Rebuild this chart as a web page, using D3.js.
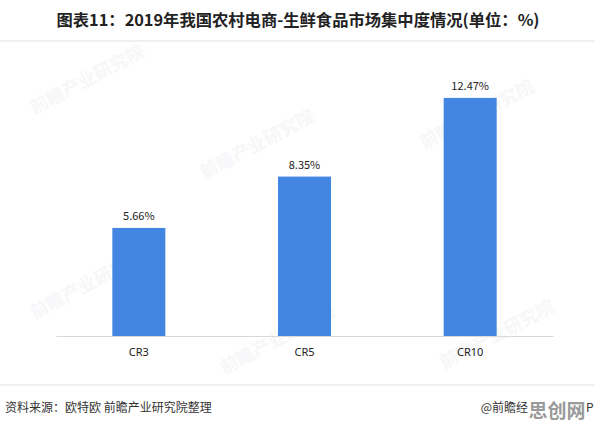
<!DOCTYPE html>
<html>
<head>
<meta charset="utf-8">
<script src="https://cdn.jsdelivr.net/npm/d3@7"></script>
<style>
body { margin: 0; background: #fff; }
svg { display: block; font-family: "Noto Sans CJK SC", "Noto Sans", sans-serif; }
</style>
</head>
<body>
<div id="chart"></div>
<script>
// data
var categories = ['CR3', 'CR5', 'CR10'];
var values = [5.66, 8.35, 12.47];
var labels = ['5.66%', '8.35%', '12.47%'];

var titleText = '图表11：2019年我国农村电商-生鲜食品市场集中度情况(单位：%)';
var sourceText = '资料来源：欧特欧 前瞻产业研究院整理';

var width = 595, height = 426;
var margin = {top: 68.7, right: 42, bottom: 90, left: 56};

var svg = d3.select('#chart').append('svg')
    .attr('width', width)
    .attr('height', height);

// faint watermarks
var marks = [[90, 85], [260, 150], [480, 120], [90, 290], [280, 345], [500, 340]];
svg.append('g').selectAll('text')
    .data(marks)
    .enter().append('text')
    .attr('transform', function (d) { return 'translate(' + d[0] + ',' + d[1] + ') rotate(-28)'; })
    .attr('text-anchor', 'middle')
    .attr('font-size', 18)
    .attr('font-weight', 'bold')
    .attr('fill', '#f6f7f9')
    .text('前瞻产业研究院');

// title
svg.append('text')
    .attr('x', 298)
    .attr('y', 26)
    .attr('text-anchor', 'middle')
    .attr('font-size', 16)
    .attr('font-weight', 'bold')
    .attr('fill', '#222')
    .attr('textLength', 483)
    .attr('lengthAdjust', 'spacingAndGlyphs')
    .text(titleText);

// separators
svg.append('rect').attr('x', 0).attr('y', 40).attr('width', width).attr('height', 2).attr('fill', '#eef0f4');
svg.append('rect').attr('x', 0).attr('y', 384).attr('width', width).attr('height', 2).attr('fill', '#eef0f4');

var x = d3.scaleBand()
    .domain(categories)
    .range([margin.left, width - margin.right])
    .paddingInner(0.68)
    .paddingOuter(0.34);

var y = d3.scaleLinear()
    .domain([0, 14])
    .range([height - margin.bottom, margin.top]);

var g = svg.append('g');

g.selectAll('.bar')
    .data(values)
    .enter().append('rect')
    .attr('class', 'bar')
    .attr('x', function (d, i) { return x(categories[i]); })
    .attr('y', function (d) { return y(d); })
    .attr('width', x.bandwidth())
    .attr('height', function (d) { return y(0) - y(d); })
    .attr('fill', '#4386e1');

g.selectAll('.lbl')
    .data(values)
    .enter().append('text')
    .attr('class', 'lbl')
    .attr('x', function (d, i) { return x(categories[i]) + x.bandwidth() / 2; })
    .attr('y', function (d) { return y(d) - 8; })
    .attr('text-anchor', 'middle')
    .attr('font-size', 11)
    .attr('fill', '#222')
    .text(function (d, i) { return labels[i]; });

// x axis
var xAxis = d3.axisBottom(x).tickSize(0).tickPadding(12);
var gx = svg.append('g')
    .attr('transform', 'translate(0,' + y(0) + ')')
    .call(xAxis);
gx.select('.domain').attr('stroke', '#d9d9d9').attr('stroke-width', 1.2);
gx.selectAll('text')
    .attr('font-size', 11)
    .attr('fill', '#222')
    .attr('font-family', '"Noto Sans", sans-serif');

// footer
svg.append('text')
    .attr('x', 5)
    .attr('y', 412)
    .attr('font-size', 12)
    .attr('fill', '#333')
    .text(sourceText);

svg.append('text')
    .attr('x', 528)
    .attr('y', 412)
    .attr('text-anchor', 'end')
    .attr('font-size', 12)
    .attr('fill', '#333')
    .text('@前瞻经');

svg.append('text')
    .attr('x', 557)
    .attr('y', 418)
    .attr('text-anchor', 'middle')
    .attr('font-size', 19)
    .attr('font-weight', 'bold')
    .attr('fill', '#9a9a9a')
    .text('思创网');

svg.append('text')
    .attr('x', 586)
    .attr('y', 412)
    .attr('font-size', 12)
    .attr('fill', '#333')
    .text('P');
</script>
</body>
</html>
